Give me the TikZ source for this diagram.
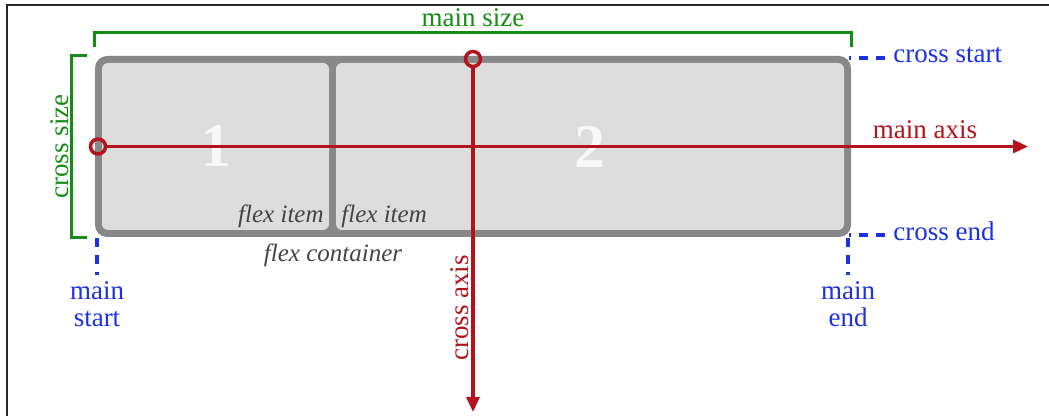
\documentclass[tikz,border=0pt]{standalone}
\usepackage{fontspec}
\setmainfont{Liberation Serif}
\usetikzlibrary{arrows.meta,calc}

\definecolor{axisred}{RGB}{180,18,28}
\definecolor{sizegreen}{RGB}{22,140,22}
\definecolor{edgeblue}{RGB}{28,48,228}
\definecolor{boxgray}{RGB}{136,136,136}
\definecolor{itemgray}{RGB}{221,221,221}
\definecolor{labelgray}{RGB}{68,68,68}

\begin{document}
\begin{tikzpicture}[x=0.5pt, y=-0.5pt]
    \tikzset{container/.style = {fill=boxgray, rounded corners=6pt, inner sep=0pt,
        minimum width=378pt, minimum height=90.5pt}}
    \tikzset{item/.style = {fill=itemgray, rounded corners=3pt, inner sep=0pt,
        minimum height=83.5pt, text=white!97!black, font=\fontsize{31}{31}\selectfont\bfseries}}
    \tikzset{textlabel/.style = {inner sep=0pt, font=\fontsize{13.5}{13.5}\selectfont}}
    \tikzset{sizelabel/.style = {textlabel, text=sizegreen}}
    \tikzset{edgelabel/.style = {textlabel, text=edgeblue}}
    \tikzset{axislabel/.style = {textlabel, text=axisred}}
    \tikzset{flexlabel/.style = {inner sep=0pt, text=labelgray, font=\fontsize{12.5}{12.5}\selectfont\itshape}}
    \tikzset{axis/.style = {draw=axisred, line width=1.6pt, -{Triangle[length=7.5pt,width=6.5pt]}}}
    \tikzset{axisdot/.style = {circle, draw=axisred, line width=1.75pt, minimum size=7.5pt, inner sep=0pt}}
    \tikzset{bracket/.style = {draw=sizegreen, line width=1.25pt}}
    \tikzset{guide/.style = {draw=edgeblue, line width=1.75pt, dash pattern=on 4.5pt off 4pt}}
    \useasboundingbox (0,0) rectangle (1049,416);
    % frame
    \draw[black!85, line width=1pt] (7,416) -- (7,5) -- (1049,5);
    % flex container and items
    \node[container] (flexbox) at (473,146.5) {};
    \node[item, minimum width=113.5pt] (item1) at (215.5,146.5) {1};
    \node[item, minimum width=254pt] (item2) at (590,146.5) {2};
    \node[flexlabel, anchor=base east] (item1label) at (324,223) {flex item};
    \node[flexlabel, anchor=base west] (item2label) at (341,223) {flex item};
    \node[flexlabel, anchor=base] (boxlabel) at (333,262) {flex container};
    % sizes
    \draw[bracket] ([yshift=4.5pt]flexbox.north west) -- ++(0,-14) -| ([yshift=4.5pt]flexbox.north east);
    \node[sizelabel, anchor=base] (mainsize) at (473,27) {main size};
    \draw[bracket] ([xshift=-4pt]flexbox.north west) -- ++(-15,0) |- ([xshift=-4pt]flexbox.south west);
    \node[sizelabel, rotate=90, anchor=base] (crosssize) at (68,146.5) {cross size};
    % axes
    \node[axisdot] (mainorigin) at (98,146.5) {};
    \coordinate (maintip) at (1028,146.5);
    \draw[axis] (mainorigin) -- (maintip);
    \node[axislabel, anchor=base] (mainaxis) at (925,139) {main axis};
    \node[axisdot] (crossorigin) at (473,59) {};
    \coordinate (crosstip) at (473,412);
    \draw[axis] (crossorigin) -- (crosstip);
    \node[axislabel, rotate=90, anchor=base] (crossaxis) at (468,308) {cross axis};
    % start and end
    \node[edgelabel, anchor=base west] (crossstart) at (893,63) {cross start};
    \coordinate (csedge) at (849,58);
    \draw[guide] ($(csedge -| crossstart.west)+(-8,0)$) -- (csedge);
    \node[edgelabel, anchor=base west] (crossend) at (893,241) {cross end};
    \coordinate (ceedge) at (849,235);
    \draw[guide] ($(ceedge -| crossend.west)+(-8,0)$) -- (ceedge);
    \node[edgelabel, align=center, anchor=north] (mainstart) at (97,281) {main\\start};
    \coordinate (msedge) at (97,238);
    \draw[guide] (msedge) -- ($(mainstart.north)+(0,-6)$);
    \node[edgelabel, align=center, anchor=north] (mainend) at (848,281) {main\\end};
    \coordinate (meedge) at (848,238);
    \draw[guide] (meedge) -- ($(mainend.north)+(0,-6)$);
\end{tikzpicture}
\end{document}
